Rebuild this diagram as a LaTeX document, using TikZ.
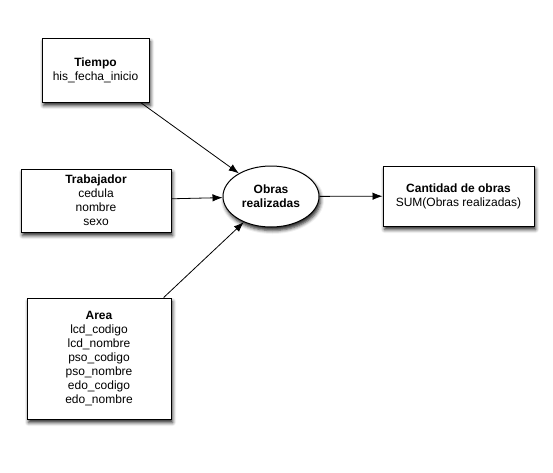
\documentclass[tikz,border=0pt]{standalone}
\usepackage{fontspec}
\setmainfont{Liberation Sans}
\usetikzlibrary{arrows.meta,shapes.geometric,shadows.blur}

\begin{document}
\begin{tikzpicture}[x=1pt,y=-1pt,every path/.style={>={Latex[length=10pt,width=7.5pt]}},
  every node/.style={font=\fontsize{12}{14}\selectfont,align=center,inner sep=0pt},
  dim/.style={draw,rectangle,fill=white,line width=1pt,
    blur shadow={shadow xshift=1.5pt,shadow yshift=-3.5pt,shadow blur radius=3.5pt,shadow opacity=85}},
  hecho/.style={draw,ellipse,fill=white,line width=1pt,
    blur shadow={shadow xshift=1.5pt,shadow yshift=-3.5pt,shadow blur radius=3.5pt,shadow opacity=85}}]
\useasboundingbox (0,0) rectangle (553,472);
\node[dim,minimum width=107pt,minimum height=64pt]  (tiempo)     at (95.5,70)   {\textbf{Tiempo}\\his\_fecha\_inicio};
\node[dim,minimum width=150pt,minimum height=63pt]  (trabajador) at (96,200.5)  {\textbf{Trabajador}\\cedula\\nombre\\sexo};
\node[dim,minimum width=144pt,minimum height=121pt] (area)       at (99,358.5)  {\textbf{Area}\\lcd\_codigo\\lcd\_nombre\\pso\_codigo\\pso\_nombre\\edo\_codigo\\edo\_nombre};
\node[hecho,minimum width=96pt,minimum height=61pt] (obras)      at (271,196.5) {\textbf{Obras}\\\textbf{realizadas}};
\node[dim,minimum width=151pt,minimum height=60pt]  (cantidad)   at (458.5,196) {\textbf{Cantidad de obras}\\SUM(Obras realizadas)};
\draw[->,line width=0.8pt] (tiempo)     -- (obras);
\draw[->,line width=0.8pt] (trabajador) -- (obras);
\draw[->,line width=0.8pt] (area)       -- (obras);
\draw[->,line width=0.8pt] (obras)      -- (cantidad);
\end{tikzpicture}
\end{document}
